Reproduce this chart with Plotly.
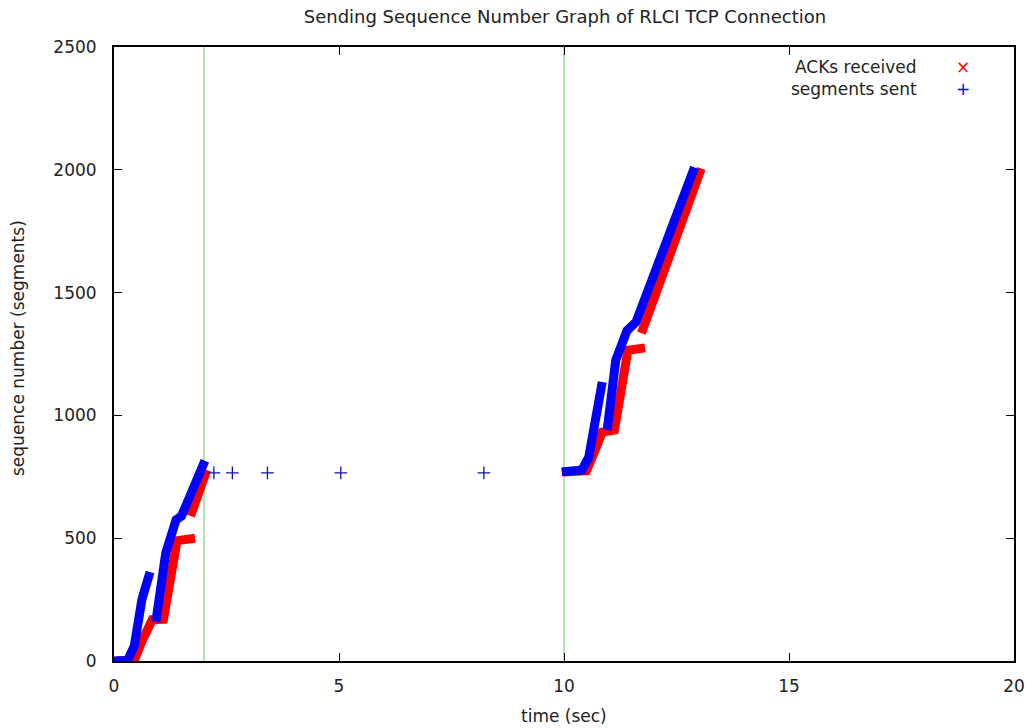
import plotly.graph_objects as go

# ---- data ----
# segments sent (blue), breakpoints of the dense marker bands; None separates bursts
sent_t = [0.0, 0.3, 0.45, 0.62, 0.8, None, 0.93, 1.15, 1.38, 1.5, 2.02,
          None, 9.95, 10.4, 10.55, 10.7, 10.85, None, 10.96, 11.15, 11.4, 11.6, 12.9]
sent_seq = [0, 2, 60, 250, 362, None, 160, 440, 575, 590, 815,
            None, 770, 778, 830, 1010, 1136, None, 940, 1225, 1345, 1380, 2010]

# retransmissions (timeouts with back-off)
retx_t = [2.22, 2.63, 3.41, 5.04, 8.22]
retx_seq = [766, 766, 766, 766, 766]

# ACKs received (red)
ack_t = [0.05, 0.45, 0.62, 0.85, 1.1, 1.4, 1.8, None, 1.7, 2.06,
         None, 10.0, 10.5, 10.65, 10.85, 11.12, 11.42, 11.8, None, 11.72, 13.05]
ack_seq = [0, 3, 80, 168, 170, 490, 500, None, 590, 778,
           None, 770, 775, 840, 932, 940, 1265, 1275, None, 1335, 2005]

# vertical markers (green)
vlines_t = [2, 10]

x_ticks = [0, 5, 10, 15, 20]
y_ticks = [0, 500, 1000, 1500, 2000, 2500]

title = "Sending Sequence Number Graph of RLCI TCP Connection"
x_title = "time (sec)"
y_title = "sequence number (segments)"
font = "DejaVu Sans, sans-serif"
txt = "#222"

fig = go.Figure()

green = "rgb(120,215,120)"
for vt in vlines_t:
    fig.add_trace(go.Scatter(x=[vt, vt], y=[0, 2500], mode="lines",
                             line=dict(color=green, width=1.2),
                             showlegend=False, hoverinfo="skip"))

fig.add_trace(go.Scatter(x=ack_t, y=ack_seq, mode="lines", name="ACKs received",
                         line=dict(color="#ff0000", width=9), connectgaps=False,
                         showlegend=False))
fig.add_trace(go.Scatter(x=sent_t, y=sent_seq, mode="lines", name="segments sent",
                         line=dict(color="#0000ff", width=9), connectgaps=False,
                         showlegend=False))
fig.add_trace(go.Scatter(x=retx_t, y=retx_seq, mode="markers", name="segments sent",
                         marker=dict(symbol="cross-thin", size=9,
                                     line=dict(color="#1010b0", width=1.3)),
                         showlegend=False))

axis_common = dict(showline=True, linecolor="black", linewidth=2, mirror="ticks",
                   ticks="inside", ticklen=8, tickcolor="black", tickwidth=1,
                   showgrid=False, zeroline=False, automargin=False,
                   tickfont=dict(family=font, size=17, color=txt))

fig.update_layout(
    width=1031, height=728,
    margin=dict(l=114, r=17, t=47, b=67),
    paper_bgcolor="white", plot_bgcolor="white",
    showlegend=False,
    title=dict(text=title, x=0.548, xanchor="center", y=0.977, yanchor="middle",
               font=dict(family=font, size=18, color=txt)),
    xaxis=dict(range=[0, 20], tickvals=x_ticks, ticktext=[str(v) for v in x_ticks],
               ticklabelstandoff=9, **axis_common),
    yaxis=dict(range=[0, 2500], tickvals=y_ticks, ticktext=[str(v) for v in y_ticks],
               ticklabelstandoff=12, **axis_common),
)

# axis titles placed like gnuplot
fig.add_annotation(xref="paper", yref="paper", x=0.5, y=-(716 - 661) / 614,
                   text=x_title, showarrow=False, xanchor="center", yanchor="middle",
                   font=dict(family=font, size=17, color=txt))
fig.add_annotation(xref="paper", yref="paper", x=-(114 - 18) / 900, y=(661 - 348) / 614,
                   text=y_title, showarrow=False, textangle=-90,
                   xanchor="center", yanchor="middle",
                   font=dict(family=font, size=17, color=txt))

# gnuplot-style key (text right-aligned, symbol on the right)
legend_items = [("ACKs received", "×", "#ff0000"), ("segments sent", "+", "#0000ff")]
for i, (label, sym, col) in enumerate(legend_items):
    yy = 67 + i * 22
    fig.add_annotation(xref="paper", yref="paper", x=(919 - 114) / 900,
                       y=(661 - yy) / 614, text=label, showarrow=False,
                       xanchor="right", yanchor="middle",
                       font=dict(family=font, size=17, color=txt))
    fig.add_annotation(xref="paper", yref="paper", x=(963 - 114) / 900,
                       y=(661 - yy) / 614, text=sym, showarrow=False,
                       xanchor="center", yanchor="middle",
                       font=dict(family=font, size=17, color=col))

fig.write_html("out.html")
